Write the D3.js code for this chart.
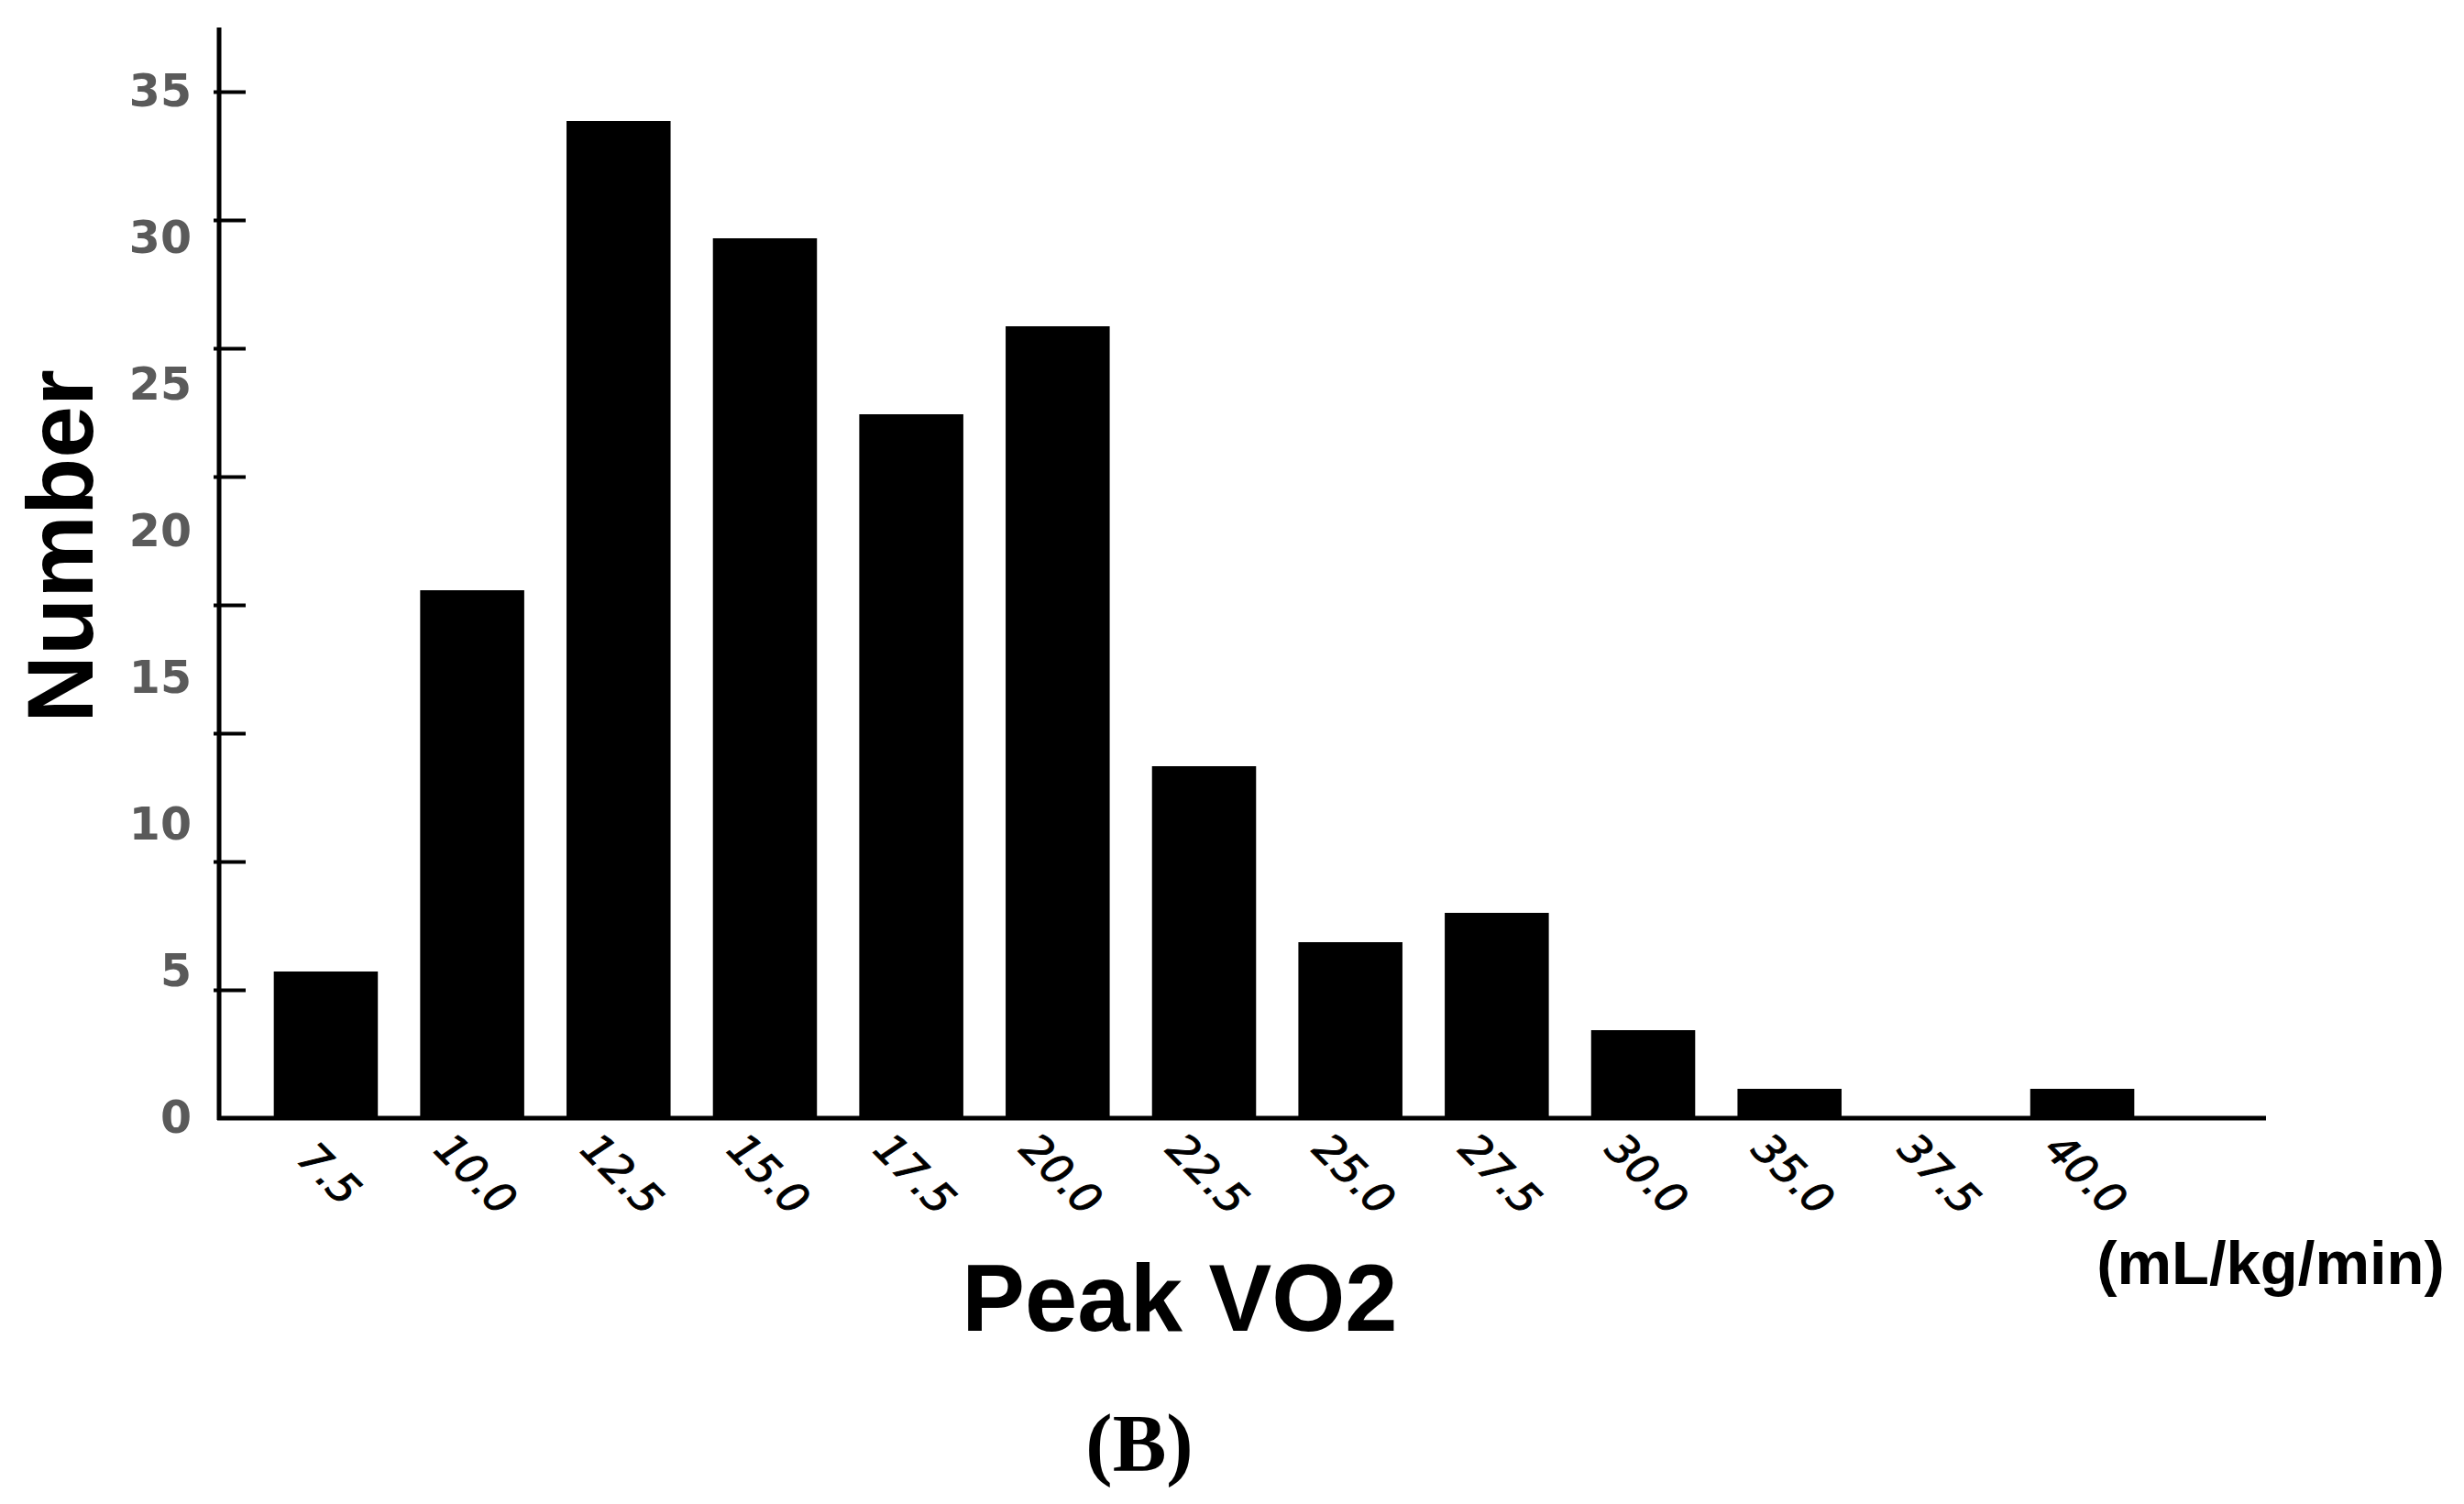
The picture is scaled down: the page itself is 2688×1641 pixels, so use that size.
<!DOCTYPE html>
<html>
<head>
<meta charset="utf-8">
<script src="https://cdn.jsdelivr.net/npm/d3@7"></script>
<style>
  html, body { margin: 0; padding: 0; background: #fff; }
  svg { display: block; }
</style>
</head>
<body>
<script>
// ---- data ----
const categories = ["7.5", "10.0", "12.5", "15.0", "17.5", "20.0", "22.5", "25.0", "27.5", "30.0", "35.0", "37.5", "40.0"];
const counts = [5, 18, 34, 30, 24, 27, 12, 6, 7, 3, 1, 0, 1];
const yTickLabels = [0, 5, 10, 15, 20, 25, 30, 35];
const yTickMarks = [4.375, 8.75, 13.125, 17.5, 21.875, 26.25, 30.625, 35];
const xTitle = "Peak VO2";
const yTitle = "Number";
const unitLabel = "(mL/kg/min)";
const panelLabel = "(B)";

// ---- layout ----
const W = 2688, H = 1641;
const axisX = 239, baseY = 1220, axisTop = 30, axisRight = 2472;

const svg = d3.select("body").append("svg")
  .attr("width", W).attr("height", H)
  .style("background", "#fff");

const x = d3.scaleBand()
  .domain(categories)
  .range([238, 2389])
  .paddingInner(0.289)
  .paddingOuter(0.38);

const y = d3.scaleLinear()
  .domain([0, 35])
  .range([baseY, 100]);

// bars
svg.append("g").selectAll("rect")
  .data(categories.map((c, i) => ({ c, v: counts[i] })))
  .join("rect")
  .attr("x", d => x(d.c))
  .attr("width", x.bandwidth())
  .attr("y", d => y(d.v))
  .attr("height", d => baseY - y(d.v))
  .attr("fill", "#000");

// y axis tick marks (crossing the axis line)
const yMarks = svg.append("g")
  .attr("transform", `translate(${axisX},0)`)
  .call(d3.axisLeft(y).tickValues(yTickMarks).tickFormat("").tickSizeOuter(0));
yMarks.select(".domain").remove();
yMarks.selectAll(".tick line")
  .attr("x1", -6).attr("x2", 29)
  .attr("stroke", "#000").attr("stroke-width", 4);

// y axis labels
const yLabs = svg.append("g")
  .attr("transform", `translate(${axisX},0)`)
  .call(d3.axisLeft(y).tickValues(yTickLabels).tickSize(0).tickPadding(30));
yLabs.select(".domain").remove();
yLabs.selectAll(".tick text")
  .attr("font-family", "'DejaVu Sans', sans-serif")
  .attr("font-weight", "bold")
  .attr("font-size", 49)
  .attr("fill", "#5a5a5a");

// axis lines
svg.append("line")
  .attr("x1", axisX).attr("x2", axisX)
  .attr("y1", axisTop).attr("y2", baseY + 2)
  .attr("stroke", "#000").attr("stroke-width", 5);
svg.append("line")
  .attr("x1", axisX - 2).attr("x2", axisRight)
  .attr("y1", baseY).attr("y2", baseY)
  .attr("stroke", "#000").attr("stroke-width", 5);

// x tick labels (rotated)
svg.append("g").selectAll("text")
  .data(categories)
  .join("text")
  .attr("transform", d => `translate(${x(d) + x.bandwidth() / 2 + 4},1281) rotate(45)`)
  .attr("text-anchor", "middle")
  .attr("dominant-baseline", "central")
  .attr("font-family", "'DejaVu Sans', sans-serif")
  .attr("font-style", "italic")
  .attr("font-size", 46)
  .attr("fill", "#000")
  .attr("stroke", "#000")
  .attr("stroke-width", 1)
  .text(d => d);

// titles
svg.append("text")
  .attr("transform", "translate(101,596) rotate(-90)")
  .attr("text-anchor", "middle")
  .attr("font-family", "'Liberation Sans', Arial, sans-serif")
  .attr("font-weight", "bold")
  .attr("font-size", 102)
  .attr("fill", "#000")
  .text(yTitle);

svg.append("text")
  .attr("x", 1287).attr("y", 1452)
  .attr("text-anchor", "middle")
  .attr("font-family", "'Liberation Sans', Arial, sans-serif")
  .attr("font-weight", "bold")
  .attr("font-size", 103)
  .attr("fill", "#000")
  .text(xTitle);

svg.append("text")
  .attr("x", 2477).attr("y", 1401)
  .attr("text-anchor", "middle")
  .attr("font-family", "'Liberation Sans', Arial, sans-serif")
  .attr("font-weight", "bold")
  .attr("font-size", 67)
  .attr("fill", "#000")
  .text(unitLabel);

svg.append("text")
  .attr("x", 1243).attr("y", 1604)
  .attr("text-anchor", "middle")
  .attr("font-family", "'Liberation Serif', 'Times New Roman', serif")
  .attr("font-weight", "bold")
  .attr("font-size", 88)
  .attr("fill", "#000")
  .text(panelLabel);
</script>
</body>
</html>
